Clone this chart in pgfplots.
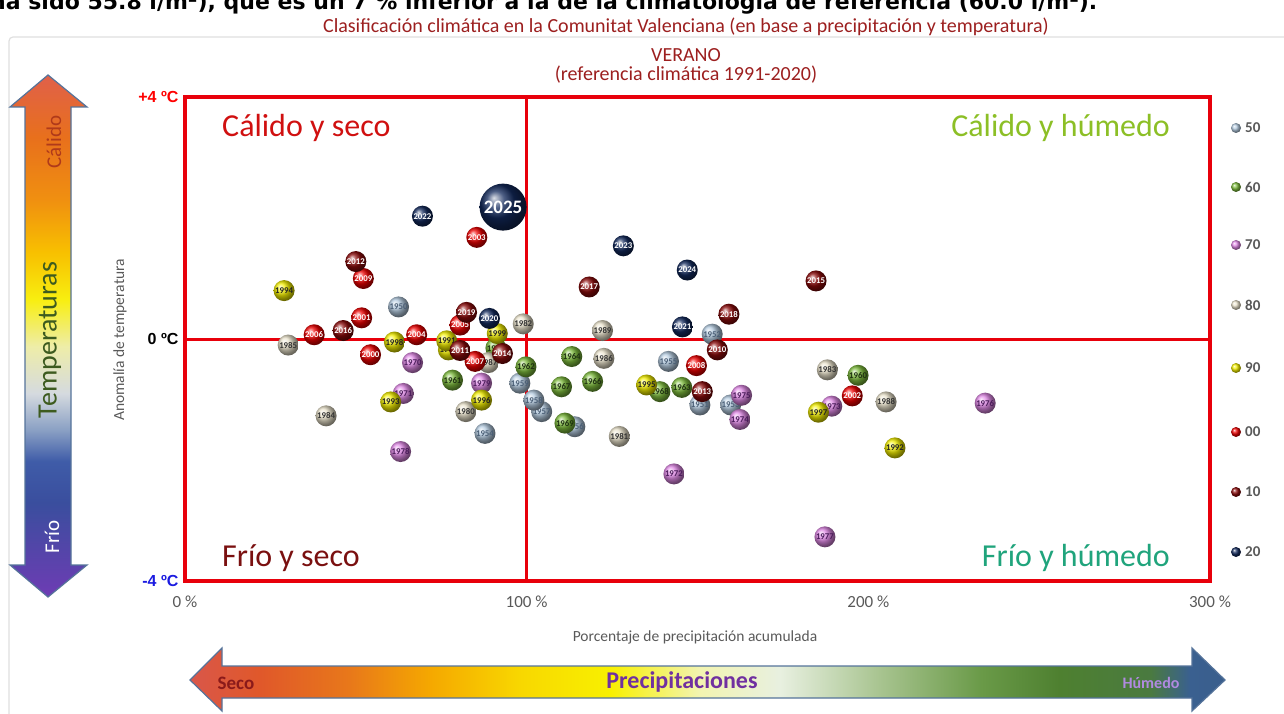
\documentclass[border=0pt]{standalone}
\usepackage{fontspec}
\setmainfont{Carlito}
\newfontfamily\arialfont{Liberation Sans}
\newfontfamily\dejafont{DejaVu Sans}
\usepackage{pgfplots}
\pgfplotsset{compat=1.18}
\usetikzlibrary{shadings}

\definecolor{titlered}{HTML}{9C1F1F}
\definecolor{q1}{HTML}{D01010}
\definecolor{q2}{HTML}{8CBF26}
\definecolor{q3}{HTML}{7A1010}
\definecolor{q4}{HTML}{20A47C}
\definecolor{axisgray}{HTML}{595959}
\definecolor{tickblue}{HTML}{1A1AE0}
\definecolor{framered}{HTML}{E8000B}
\definecolor{arrowborder}{HTML}{55739A}

\definecolor{c50}{HTML}{B4CBE0}\definecolor{t50}{HTML}{4A5E75}
\definecolor{c60}{HTML}{7DBB3C}\definecolor{t60}{HTML}{1E3010}
\definecolor{c70}{HTML}{E089E6}\definecolor{t70}{HTML}{4A1C5A}
\definecolor{c80}{HTML}{EAE3CC}\definecolor{t80}{HTML}{333333}
\definecolor{c90}{HTML}{F2EE00}\definecolor{t90}{HTML}{222222}
\definecolor{c00}{HTML}{EE0000}
\definecolor{c10}{HTML}{8A0A0A}
\definecolor{c20}{HTML}{12295C}

\definecolor{tp0}{HTML}{6E3CB4}
\definecolor{tp1}{HTML}{3A4E9E}
\definecolor{tp2}{HTML}{3F5CA8}
\definecolor{tp3}{HTML}{8AA0C4}
\definecolor{tp4}{HTML}{D5DADF}
\definecolor{tp5}{HTML}{EEEDA8}
\definecolor{tp6}{HTML}{F8EE10}
\definecolor{tp7}{HTML}{F8C000}
\definecolor{tp8}{HTML}{F09010}
\definecolor{tp9}{HTML}{E8701C}
\definecolor{tp10}{HTML}{E0604A}

\definecolor{pp0}{HTML}{D9574A}
\definecolor{pp1}{HTML}{E0582A}
\definecolor{pp2}{HTML}{E8781A}
\definecolor{pp3}{HTML}{F5A800}
\definecolor{pp4}{HTML}{F8D800}
\definecolor{pp5}{HTML}{F8F000}
\definecolor{pp6}{HTML}{F2F4B0}
\definecolor{pp7}{HTML}{E8F0E0}
\definecolor{pp8}{HTML}{A8C490}
\definecolor{pp9}{HTML}{6A9A48}
\definecolor{pp10}{HTML}{4E8030}
\definecolor{pp11}{HTML}{4A7A40}
\definecolor{pp12}{HTML}{3A6090}
\definecolor{pp13}{HTML}{3A5E8C}

\pgfdeclareverticalshading{tempgrad}{100bp}{color(0bp)=(tp0); color(25bp)=(tp0); color(34bp)=(tp1); color(38bp)=(tp2); color(41bp)=(tp3); color(44.5bp)=(tp4); color(49bp)=(tp5); color(53.5bp)=(tp6); color(58bp)=(tp7); color(63bp)=(tp8); color(69bp)=(tp9); color(75bp)=(tp10); color(100bp)=(tp10)}
\pgfdeclarehorizontalshading{precgrad}{100bp}{color(0bp)=(pp0); color(25bp)=(pp0); color(28.4bp)=(pp1); color(32.7bp)=(pp2); color(36.6bp)=(pp3); color(41bp)=(pp4); color(45.3bp)=(pp5); color(49.6bp)=(pp6); color(53.5bp)=(pp7); color(58.3bp)=(pp8); color(63.2bp)=(pp9); color(67bp)=(pp10); color(71.4bp)=(pp11); color(73.3bp)=(pp12); color(75bp)=(pp13); color(100bp)=(pp13)}

\pgfplotsset{
  balls/.style 2 args={only marks, mark=none, point meta=explicit symbolic,
    nodes near coords={\pgfplotspointmeta},
    every node near coord/.append style={circle, ball color=#1, minimum size=21pt,
      inner sep=0pt, anchor=center, text=#2, font=\bfseries\fontsize{8.8}{8.8}\selectfont}},
}

\begin{document}
\begin{tikzpicture}
\begin{scope}[x=1pt,y=1pt]
\useasboundingbox (0,0) rectangle (1284,713);
\draw[gray!25, line width=1.2pt, rounded corners=4pt] (9,-5) -- (9,676) -- (1300,676);
\node[anchor=base west, inner sep=0pt, font=\dejafont\bfseries\fontsize{22}{22}\selectfont] at (-10,703)
  {ha sido 55.8 l/m²), que es un 7 \% inferior a la de la climatología de referencia (60.0 l/m²).};
% title
\node[text=titlered, font=\fontsize{20}{20}\selectfont] at (686,686) {Clasificación climática en la Comunitat Valenciana (en base a precipitación y temperatura)};
\node[text=titlered, font=\fontsize{20}{20}\selectfont] at (686,658) {VERANO};
\node[text=titlered, font=\fontsize{20}{20}\selectfont] at (686,638) {(referencia climática 1991-2020)};
% left arrow
\shade[shading=tempgrad, draw=arrowborder, line width=1.2pt]
  (48,638) -- (87,606) -- (71,606) -- (71,148) -- (87,148) -- (48,116) -- (10,148) -- (25,148) -- (25,606) -- (10,606) -- cycle;
\node[rotate=90, text={rgb,255:red,176;green,58;blue,26}, font=\fontsize{21}{21}\selectfont] at (54,571) {Cálido};
\node[rotate=90, text={rgb,255:red,61;green,91;blue,31}, font=\fontsize{28}{28}\selectfont] at (50,373) {Temperaturas};
\node[rotate=90, text=white, font=\fontsize{21}{21}\selectfont] at (52,176) {Frío};
% bottom arrow
\shade[shading=precgrad, draw=arrowborder, line width=1.2pt]
  (190,33) -- (222,65) -- (222,47) -- (1192,47) -- (1192,65) -- (1225,33) -- (1192,2) -- (1192,15) -- (222,15) -- (222,2) -- cycle;
\node[text={rgb,255:red,139;green,26;blue,26}, font=\bfseries\fontsize{19}{19}\selectfont] at (236,30) {Seco};
\node[text={rgb,255:red,112;green,48;blue,160}, font=\bfseries\fontsize{24}{24}\selectfont] at (682,31) {Precipitaciones};
\node[text={rgb,255:red,176;green,138;blue,224}, font=\bfseries\fontsize{16}{16}\selectfont] at (1151,30) {Húmedo};
% axis titles
\node[rotate=90, text=axisgray, font=\fontsize{15.5}{15.5}\selectfont] at (120,373) {Anomalía de temperatura};
\node[text=axisgray, font=\fontsize{15.5}{15.5}\selectfont] at (695,76) {Porcentaje de precipitación acumulada};
% legend
\foreach \c/\l/\yy in {c50/50/585, c60/60/526, c70/70/468, c80/80/408, c90/90/345, c00/00/281, c10/10/221, c20/20/161}{
  \shade[ball color=\c] (1236,\yy) circle (5);
  \node[anchor=west, text=axisgray, font=\bfseries\fontsize{15}{15}\selectfont, inner sep=0pt] at (1245,\yy) {\l};
}
\end{scope}

\begin{axis}[at={(185pt,132pt)}, anchor=south west, width=1025pt, height=484pt, scale only axis,
  xmin=0, xmax=300, ymin=-4, ymax=4,
  axis line style={draw=framered, line width=4pt},
  major tick length=0pt,
  xtick={0,100,200,300}, xticklabels={0 \%, 100 \%, 200 \%, 300 \%},
  xticklabel style={text=axisgray, font=\fontsize{17}{17}\selectfont, yshift=-11pt},
  ytick={-4,0,4},
  yticklabels={\textcolor{tickblue}{-4 ºC}, \textcolor{black}{0 ºC}, \textcolor{red}{+4 ºC}},
  yticklabel style={font=\arialfont\bfseries\fontsize{16}{16}\selectfont, xshift=-3pt},
  clip=false]
\addplot[balls={c50}{t50}] table[meta=lab] {
x y lab
62.5 0.53 1950
150.7 -1.09 1951
154.3 0.08 1952
159.7 -1.09 1953
87.8 -1.56 1954
141.5 -0.37 1955
114.1 -1.45 1956
104.4 -1.20 1957
102.1 -1.01 1958
98.0 -0.73 1959
};
\addplot[balls={c60}{t60}] table[meta=lab] {
x y lab
197.0 -0.60 1960
78.3 -0.68 1961
99.8 -0.46 1962
145.4 -0.80 1963
113.2 -0.29 1964
91.0 -0.15 1965
119.3 -0.70 1966
110.2 -0.79 1967
139.0 -0.87 1968
111.2 -1.39 1969
};
\addplot[balls={c70}{t70}] table[meta=lab] {
x y lab
66.6 -0.39 1970
63.9 -0.90 1971
143.1 -2.23 1972
189.3 -1.11 1973
162.4 -1.33 1974
162.9 -0.93 1975
234.2 -1.06 1976
187.3 -3.27 1977
63.1 -1.86 1978
86.8 -0.73 1979
};
\addplot[balls={c80}{t80}] table[meta=lab] {
x y lab
82.2 -1.20 1980
127.1 -1.61 1981
99.0 0.25 1982
188.0 -0.51 1983
41.3 -1.27 1984
30.2 -0.10 1985
122.6 -0.32 1986
88.8 -0.39 1987
205.2 -1.04 1988
122.2 0.14 1989
};
\addplot[balls={c90}{t90}] table[meta=lab] {
x y lab
77.1 -0.18 1990
76.6 -0.03 1991
207.8 -1.80 1992
60.2 -1.04 1993
29.0 0.80 1994
135.1 -0.76 1995
86.8 -1.01 1996
185.4 -1.21 1997
61.3 -0.05 1998
91.4 0.09 1999
};
\addplot[balls={c00}{white}] table[meta=lab] {
x y lab
54.3 -0.26 2000
51.7 0.35 2001
195.3 -0.94 2002
85.4 1.68 2003
67.8 0.07 2004
80.5 0.23 2005
37.8 0.07 2006
84.9 -0.37 2007
149.7 -0.44 2008
52.2 1.00 2009
};
\addplot[balls={c10}{white}] table[meta=lab] {
x y lab
155.8 -0.18 2010
80.5 -0.19 2011
50.0 1.28 2012
151.4 -0.87 2013
92.9 -0.24 2014
184.7 0.96 2015
46.3 0.14 2016
118.3 0.86 2017
159.2 0.41 2018
82.4 0.44 2019
};
\addplot[balls={c20}{white}] table[meta=lab] {
x y lab
89.1 0.34 2020
145.6 0.20 2021
69.5 2.03 2022
128.3 1.54 2023
147.0 1.14 2024
};
\addplot[balls={c20}{white}, every node near coord/.append style={minimum size=47pt, font=\bfseries\fontsize{19}{19}\selectfont}] table[meta=lab] {
x y lab
93.1 2.18 2025
};
\draw[framered, line width=3pt] (axis cs:100,-4) -- (axis cs:100,4);
\draw[framered, line width=3pt] (axis cs:0,0) -- (axis cs:300,0);
\end{axis}

\begin{scope}[x=1pt,y=1pt]
\node[anchor=west, text=q1, font=\fontsize{32}{32}\selectfont, inner sep=0pt] at (222,585) {Cálido y seco};
\node[anchor=east, text=q2, font=\fontsize{32}{32}\selectfont, inner sep=0pt] at (1170,585) {Cálido y húmedo};
\node[anchor=west, text=q3, font=\fontsize{32}{32}\selectfont, inner sep=0pt] at (222,155) {Frío y seco};
\node[anchor=east, text=q4, font=\fontsize{32}{32}\selectfont, inner sep=0pt] at (1170,155) {Frío y húmedo};
\end{scope}
\end{tikzpicture}
\end{document}
